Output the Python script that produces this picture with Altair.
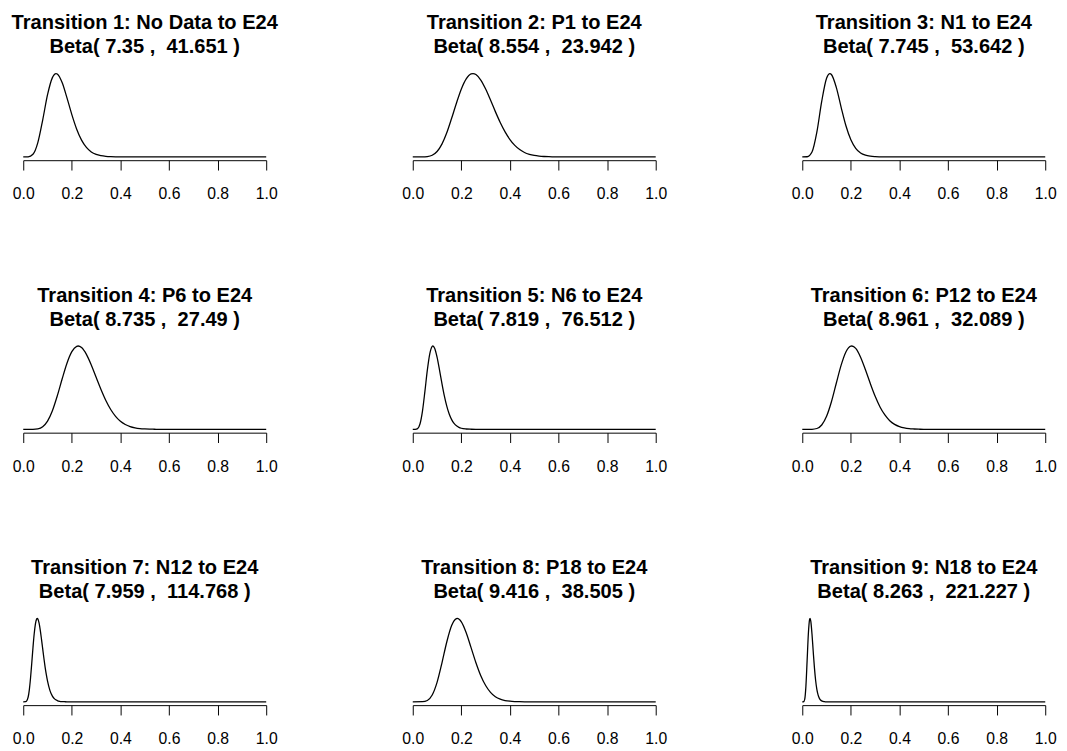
import altair as alt
import pandas as pd

TITLES = [
    "Transition 1: No Data to E24",
    "Transition 2: P1 to E24",
    "Transition 3: N1 to E24",
    "Transition 4: P6 to E24",
    "Transition 5: N6 to E24",
    "Transition 6: P12 to E24",
    "Transition 7: N12 to E24",
    "Transition 8: P18 to E24",
    "Transition 9: N18 to E24",
]
ALPHA = ["7.35", "8.554", "7.745", "8.735", "7.819", "8.961", "7.959", "9.416", "8.263"]
BETA = ["41.651", "23.942", "53.642", "27.49", "76.512", "32.089", "114.768", "38.505", "221.227"]

TICKS = [0.0, 0.2, 0.4, 0.6, 0.8, 1.0]

# relative density heights (peak = 1)
X1 = [0, 0.02, 0.04, 0.06, 0.08, 0.10, 0.12, 0.135, 0.14, 0.16, 0.18, 0.20, 0.22, 0.24, 0.26, 0.28, 0.30, 0.32, 0.34, 0.36, 0.38, 1.0]
Y1 = [0, 0.001, 0.031, 0.171, 0.442, 0.746, 0.951, 1.0, 0.995, 0.892, 0.708, 0.507, 0.332, 0.201, 0.113, 0.059, 0.029, 0.014, 0.006, 0.002, 0, 0]

X2 = [0, 0.04, 0.06, 0.08, 0.10, 0.12, 0.14, 0.16, 0.18, 0.20, 0.22, 0.24, 0.248,
      0.26, 0.28, 0.30, 0.32, 0.34, 0.36, 0.38, 0.40, 0.42, 0.44, 0.46, 0.48, 0.50, 0.52, 0.54, 0.56, 0.58, 0.60, 1.0]
Y2 = [0, 0.0003, 0.004, 0.020, 0.065, 0.153, 0.289, 0.463, 0.647, 0.815, 0.936, 0.996, 1.0,
      0.988, 0.922, 0.814, 0.682, 0.543, 0.413, 0.300, 0.208, 0.138, 0.088, 0.053, 0.031, 0.017, 0.009, 0.0045, 0.002, 0.001, 0, 0]

X3 = [0, 0.02, 0.04, 0.06, 0.08, 0.10, 0.114, 0.12, 0.14, 0.16, 0.18, 0.20, 0.22, 0.24, 0.26, 0.28, 0.30, 0.32, 0.34, 1.0]
Y3 = [0, 0.0016, 0.058, 0.297, 0.666, 0.944, 1.0, 0.988, 0.834, 0.595, 0.370, 0.205, 0.103, 0.047, 0.020, 0.008, 0.003, 0.001, 0, 0]

X4 = [0, 0.04, 0.06, 0.08, 0.10, 0.12, 0.14, 0.16, 0.18, 0.20, 0.22, 0.226, 0.24, 0.26, 0.28, 0.30, 0.32, 0.34,
      0.36, 0.38, 0.40, 0.42, 0.44, 0.46, 0.48, 0.50, 0.52, 0.54, 0.56, 1.0]
Y4 = [0, 0.0005, 0.006, 0.032, 0.099, 0.224, 0.401, 0.604, 0.794, 0.932, 0.996, 1.0, 0.981, 0.899, 0.772, 0.624, 0.478, 0.346,
      0.238, 0.156, 0.097, 0.058, 0.033, 0.018, 0.009, 0.0044, 0.002, 0.001, 0, 0]

X5 = [0, 0.01, 0.02, 0.03, 0.04, 0.05, 0.06, 0.07, 0.08, 0.083, 0.09, 0.10, 0.11, 0.12, 0.13, 0.14, 0.15, 0.16,
      0.17, 0.18, 0.19, 0.20, 0.22, 0.24, 0.26, 1.0]
Y5 = [0, 0.0002, 0.009, 0.067, 0.219, 0.455, 0.710, 0.906, 0.995, 1.0, 0.974, 0.867, 0.714, 0.551, 0.401, 0.278, 0.184, 0.117,
      0.071, 0.042, 0.024, 0.013, 0.004, 0.001, 0, 0]

X6 = [0, 0.04, 0.06, 0.08, 0.10, 0.12, 0.14, 0.16, 0.18, 0.20, 0.204, 0.22, 0.24, 0.26, 0.28, 0.30, 0.32, 0.34,
      0.36, 0.38, 0.40, 0.42, 0.44, 0.46, 0.48, 0.50, 1.0]
Y6 = [0, 0.0008, 0.010, 0.052, 0.156, 0.331, 0.553, 0.770, 0.931, 0.999, 1.0, 0.971, 0.866, 0.715, 0.550, 0.397, 0.269, 0.173,
      0.104, 0.060, 0.033, 0.017, 0.008, 0.004, 0.0016, 0, 0]

X7 = [0, 0.01, 0.02, 0.025, 0.03, 0.035, 0.04, 0.045, 0.05, 0.055, 0.0576, 0.06, 0.065, 0.07, 0.075, 0.08, 0.085,
      0.09, 0.095, 0.10, 0.11, 0.12, 0.13, 0.14, 0.15, 0.16, 0.17, 0.18, 1.0]
Y7 = [0, 0.0014, 0.055, 0.144, 0.285, 0.463, 0.649, 0.813, 0.932, 0.992, 1.0, 0.995, 0.946, 0.861, 0.753, 0.638, 0.523,
      0.417, 0.325, 0.247, 0.134, 0.068, 0.032, 0.015, 0.006, 0.0025, 0.001, 0, 0]

X8 = [0, 0.04, 0.06, 0.08, 0.10, 0.12, 0.14, 0.16, 0.18, 0.183, 0.20, 0.22, 0.24, 0.26, 0.28, 0.30, 0.32, 0.34,
      0.36, 0.38, 0.40, 0.42, 0.44, 0.46, 1.0]
Y8 = [0, 0.0012, 0.016, 0.081, 0.233, 0.465, 0.718, 0.915, 0.998, 1.0, 0.960, 0.829, 0.650, 0.469, 0.313, 0.195, 0.113, 0.061,
      0.031, 0.015, 0.007, 0.003, 0.001, 0, 0]

X9 = [0, 0.005, 0.01, 0.015, 0.02, 0.025, 0.03, 0.032, 0.035, 0.04, 0.045, 0.05, 0.055, 0.06, 0.065, 0.07, 0.075,
      0.08, 0.085, 0.09, 0.095, 1.0]
Y9 = [0, 0.0006, 0.030, 0.188, 0.497, 0.813, 0.986, 1.0, 0.968, 0.813, 0.606, 0.410, 0.256, 0.150, 0.083, 0.044, 0.022,
      0.011, 0.005, 0.002, 0, 0]

XS = [X1, X2, X3, X4, X5, X6, X7, X8, X9]
YS = [Y1, Y2, Y3, Y4, Y5, Y6, Y7, Y8, Y9]

NB = "\u00a0"
FONT = "Liberation Sans"


def panel(i):
    df = pd.DataFrame({"x": XS[i], "y": YS[i]})
    line1 = TITLES[i] + NB
    line2 = NB + "Beta(" + NB + ALPHA[i] + NB + "," + NB + NB + BETA[i] + NB + ")"
    title = alt.TitleParams(
        text=[line1, line2],
        font=FONT,
        fontSize=20.4,
        fontWeight="bold",
        color="black",
        lineHeight=24,
        offset=13,
        anchor="middle",
    )
    return (
        alt.Chart(df, title=title)
        .mark_line(interpolate="monotone", color="black", strokeWidth=1.3)
        .encode(
            x=alt.X(
                "x:Q",
                scale=alt.Scale(domain=[0, 1], nice=False, zero=False),
                axis=alt.Axis(
                    values=TICKS,
                    format=".1f",
                    title=None,
                    grid=False,
                    tickSize=10,
                    tickColor="black",
                    tickWidth=1,
                    domainColor="black",
                    domainWidth=1,
                    labelFont=FONT,
                    labelFontSize=16,
                    labelColor="black",
                    labelPadding=16,
                    labelFlush=False,
                    labelOverlap=False,
                ),
            ),
            y=alt.Y(
                "y:Q",
                scale=alt.Scale(domain=[-0.04, 1.04], nice=False, zero=False),
                axis=None,
            ),
        )
        .properties(width=247, height=91.5)
    )


rows = [
    alt.hconcat(*[panel(r * 3 + c) for c in range(3)], spacing=149, bounds="flush")
    for r in range(3)
]
chart = (
    alt.vconcat(*rows, spacing=277, bounds="flush")
    .properties(padding={"left": 3.5, "top": -1, "right": 2, "bottom": 5}, background="white")
    .configure_view(stroke=None)
)

chart.save("out.html", embed_options={"renderer": "svg", "actions": False})
